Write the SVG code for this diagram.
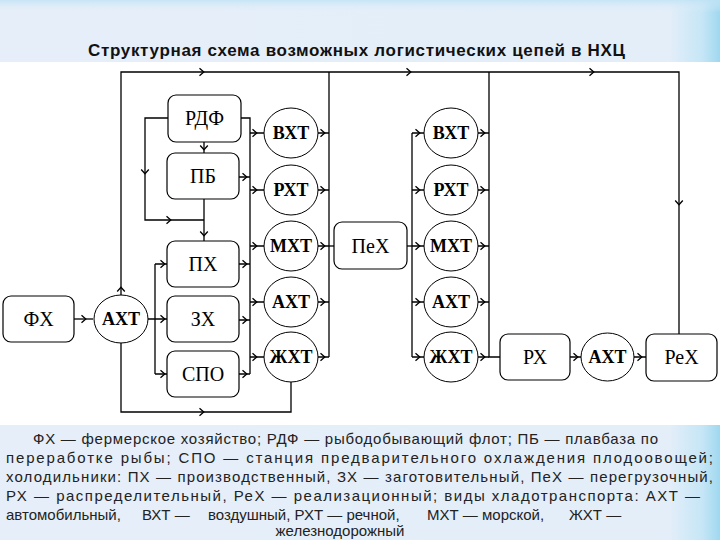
<svg xmlns="http://www.w3.org/2000/svg" xmlns:xlink="http://www.w3.org/1999/xlink" width="720" height="540" viewBox="0 0 720 540">
<defs>
<linearGradient id="band" x1="0" y1="0" x2="1" y2="0">
<stop offset="0" stop-color="#e6eef9"/>
<stop offset="0.93" stop-color="#e3eef9"/>
<stop offset="0.975" stop-color="#c6e6f6"/>
<stop offset="1" stop-color="#9fd8f0"/>
</linearGradient>
<linearGradient id="bandv" x1="0" y1="0" x2="0" y2="1">
<stop offset="0" stop-color="#bfe3f5" stop-opacity="0.8"/>
<stop offset="0.2" stop-color="#e6eef9" stop-opacity="0"/>
</linearGradient>
<path id="chev" d="M-3.5,-3.8 L0.8,0 L-3.5,3.8" fill="none" stroke="#000" stroke-width="1.3"/>
<style>
.box{fill:#fff;stroke:#000;stroke-width:1.2}
.circ{fill:#fff;stroke:#000;stroke-width:1}
.lbl{font-family:"Liberation Serif","Times New Roman",serif;font-size:20px;text-anchor:middle;fill:#000}
.clbl{font-family:"Liberation Serif","Times New Roman",serif;font-size:18px;font-weight:bold;text-anchor:middle;fill:#000}
.ln{fill:none;stroke:#000;stroke-width:1.3}
.title{font-family:"Liberation Sans",Arial,sans-serif;font-size:17px;font-weight:bold;fill:#111}
.note{font-family:"Liberation Sans",Arial,sans-serif;font-size:15px;fill:#222}
</style>
</defs>
<rect x="0" y="0" width="720" height="540" fill="#fff"/>
<rect x="0" y="0" width="720" height="62" fill="url(#band)"/>
<rect x="0" y="0" width="720" height="62" fill="url(#bandv)"/>
<rect x="0" y="425" width="720" height="115" fill="url(#band)"/>
<text class="title" x="88" y="56" textLength="537" lengthAdjust="spacing">Структурная схема возможных логистических цепей в НХЦ</text>

<g id="connectors">
<path class="ln" d="M121,296 V72 H679 V334"/>
<path class="ln" d="M329,72 V357"/>
<path class="ln" d="M489,72 V357 H500"/>
<path class="ln" d="M74,319 H93"/>
<path class="ln" d="M148,319 H167 M155,264 V374 M155,264 H167 M155,374 H167"/>
<path class="ln" d="M121,342 V412 H291 V382"/>
<path class="ln" d="M204,142 V153"/>
<path class="ln" d="M168,118 H145 V220 H204"/>
<path class="ln" d="M204,199 V241" stroke-width="1.6"/>
<path class="ln" d="M241,118 H250 V374"/>
<path class="ln" d="M239,177 H250 M239,264 H250 M239,320 H250 M239,374 H250"/>
<path class="ln" d="M250,133 H264 M250,190 H264 M250,246 H264 M250,302 H264 M250,357 H264"/>
<path class="ln" d="M318,133 H329 M318,190 H329 M318,246 H329 M318,302 H329 M318,357 H329"/>
<path class="ln" d="M329,246 H334"/>
<path class="ln" d="M407,246 H412"/>
<path class="ln" d="M412,133 V357" stroke-width="1.6"/>
<path class="ln" d="M412,133 H424 M412,190 H424 M412,246 H424 M412,302 H424 M412,357 H424"/>
<path class="ln" d="M478,133 H489 M478,190 H489 M478,246 H489 M478,302 H489 M478,357 H489"/>
<path class="ln" d="M570,357 H581 M634,357 H646"/>
<use xlink:href="#chev" transform="translate(203,72)"/>
<use xlink:href="#chev" transform="translate(410,72)"/>
<use xlink:href="#chev" transform="translate(593,72)"/>
<use xlink:href="#chev" transform="translate(679,204) rotate(90)"/>
<use xlink:href="#chev" transform="translate(85,319)"/>
<use xlink:href="#chev" transform="translate(121,288) rotate(-90)"/>
<use xlink:href="#chev" transform="translate(164,264)"/>
<use xlink:href="#chev" transform="translate(164,319)"/>
<use xlink:href="#chev" transform="translate(164,374)"/>
<use xlink:href="#chev" transform="translate(203,412)"/>
<use xlink:href="#chev" transform="translate(204,149) rotate(90)"/>
<use xlink:href="#chev" transform="translate(145,173) rotate(90)"/>
<use xlink:href="#chev" transform="translate(170,220)"/>
<use xlink:href="#chev" transform="translate(204,235) rotate(90)"/>
<use xlink:href="#chev" transform="translate(246,177)"/>
<use xlink:href="#chev" transform="translate(246,264)"/>
<use xlink:href="#chev" transform="translate(246,320)"/>
<use xlink:href="#chev" transform="translate(246,374)"/>
<use xlink:href="#chev" transform="translate(256,133)"/>
<use xlink:href="#chev" transform="translate(256,190)"/>
<use xlink:href="#chev" transform="translate(256,246)"/>
<use xlink:href="#chev" transform="translate(256,302)"/>
<use xlink:href="#chev" transform="translate(256,357)"/>
<use xlink:href="#chev" transform="translate(324,133)"/>
<use xlink:href="#chev" transform="translate(324,190)"/>
<use xlink:href="#chev" transform="translate(324,246)"/>
<use xlink:href="#chev" transform="translate(324,302)"/>
<use xlink:href="#chev" transform="translate(324,357)"/>
<use xlink:href="#chev" transform="translate(419,133)"/>
<use xlink:href="#chev" transform="translate(419,190)"/>
<use xlink:href="#chev" transform="translate(419,246)"/>
<use xlink:href="#chev" transform="translate(419,302)"/>
<use xlink:href="#chev" transform="translate(419,357)"/>
<use xlink:href="#chev" transform="translate(484,133)"/>
<use xlink:href="#chev" transform="translate(484,190)"/>
<use xlink:href="#chev" transform="translate(484,246)"/>
<use xlink:href="#chev" transform="translate(484,302)"/>
<use xlink:href="#chev" transform="translate(484,357)"/>
<use xlink:href="#chev" transform="translate(577,357)"/>
<use xlink:href="#chev" transform="translate(641,357)"/>
</g>

<g id="n-fx"><rect class="box" x="3" y="296" width="71" height="46" rx="8"/><text class="lbl" x="38.5" y="326">ФХ</text></g>
<g id="n-axt0"><ellipse class="circ" cx="121" cy="319" rx="27" ry="24"/><text class="clbl" x="121" y="325">АХТ</text></g>
<g id="n-rdf"><rect class="box" x="168" y="95" width="73" height="47" rx="8"/><text class="lbl" x="204.5" y="125">РДФ</text></g>
<g id="n-pb"><rect class="box" x="167" y="153" width="72" height="46" rx="8"/><text class="lbl" x="203" y="183">ПБ</text></g>
<g id="n-px"><rect class="box" x="167" y="241" width="72" height="46" rx="8"/><text class="lbl" x="203" y="271">ПХ</text></g>
<g id="n-zx"><rect class="box" x="167" y="296" width="72" height="46" rx="8"/><text class="lbl" x="203" y="326">ЗХ</text></g>
<g id="n-spo"><rect class="box" x="167" y="351" width="72" height="46" rx="8"/><text class="lbl" x="203" y="381">СПО</text></g>

<g id="n-vxt1"><ellipse class="circ" cx="291" cy="133" rx="27" ry="25"/><text class="clbl" x="291" y="139">ВХТ</text></g>
<g id="n-rxt1"><ellipse class="circ" cx="291" cy="190" rx="27" ry="25"/><text class="clbl" x="291" y="196">РХТ</text></g>
<g id="n-mxt1"><ellipse class="circ" cx="291" cy="246" rx="27" ry="25"/><text class="clbl" x="291" y="252">МХТ</text></g>
<g id="n-axt1"><ellipse class="circ" cx="291" cy="302" rx="27" ry="25"/><text class="clbl" x="291" y="308">АХТ</text></g>
<g id="n-gxt1"><ellipse class="circ" cx="291" cy="357" rx="27" ry="25"/><text class="clbl" x="291" y="363">ЖХТ</text></g>

<g id="n-pex"><rect class="box" x="334" y="222" width="73" height="47" rx="8"/><text class="lbl" x="370.5" y="253">ПеХ</text></g>

<g id="n-vxt2"><ellipse class="circ" cx="451" cy="133" rx="27" ry="25"/><text class="clbl" x="451" y="139">ВХТ</text></g>
<g id="n-rxt2"><ellipse class="circ" cx="451" cy="190" rx="27" ry="25"/><text class="clbl" x="451" y="196">РХТ</text></g>
<g id="n-mxt2"><ellipse class="circ" cx="451" cy="246" rx="27" ry="25"/><text class="clbl" x="451" y="252">МХТ</text></g>
<g id="n-axt2"><ellipse class="circ" cx="451" cy="302" rx="27" ry="25"/><text class="clbl" x="451" y="308">АХТ</text></g>
<g id="n-gxt2"><ellipse class="circ" cx="451" cy="357" rx="27" ry="25"/><text class="clbl" x="451" y="363">ЖХТ</text></g>

<g id="n-rx"><rect class="box" x="500" y="334" width="70" height="46" rx="8"/><text class="lbl" x="535" y="364">РХ</text></g>
<g id="n-axt3"><ellipse class="circ" cx="607.5" cy="357" rx="26.5" ry="24"/><text class="clbl" x="607.5" y="363">АХТ</text></g>
<g id="n-rex"><rect class="box" x="646" y="334" width="71" height="47" rx="8"/><text class="lbl" x="681.5" y="364">РеХ</text></g>

<g id="legend">
<text class="note" x="33" y="444" textLength="625" lengthAdjust="spacing">ФХ — фермерское хозяйство; РДФ — рыбодобывающий флот; ПБ — плавбаза по</text>
<text class="note" x="6" y="463" textLength="707" lengthAdjust="spacing">переработке рыбы; СПО — станция предварительного охлаждения плодоовощей;</text>
<text class="note" x="6" y="482" textLength="707" lengthAdjust="spacing">холодильники: ПХ — производственный, ЗХ — заготовительный, ПеХ — перегрузочный,</text>
<text class="note" x="6" y="501" textLength="694" lengthAdjust="spacing">РХ — распределительный, РеХ — реализационный; виды хладотранспорта: АХТ —</text>
<text class="note" y="520"><tspan x="6">автомобильный,</tspan><tspan x="142">ВХТ —</tspan><tspan x="208">воздушный, РХТ — речной,</tspan><tspan x="427">МХТ — морской,</tspan><tspan x="569">ЖХТ —</tspan></text>
<text class="note" x="340" y="536" text-anchor="middle">железнодорожный</text>
</g>
</svg>
